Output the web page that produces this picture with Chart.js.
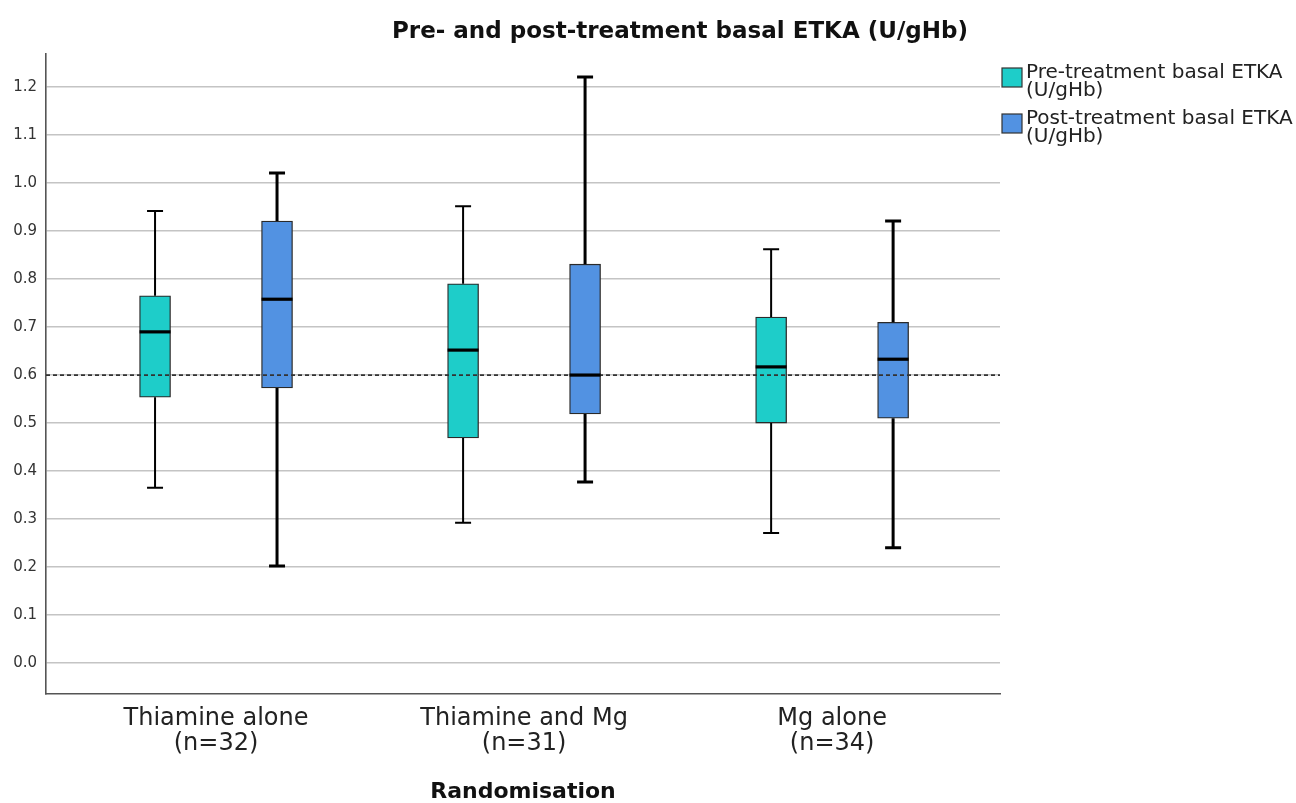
<!DOCTYPE html>
<html><head><meta charset="utf-8">
<script src="https://cdn.jsdelivr.net/npm/chart.js@4.4.1/dist/chart.umd.min.js"></script>
<style>html,body{margin:0;padding:0;background:#fff;} canvas{display:block;}</style>
</head><body>
<canvas id="c" width="1296" height="803"></canvas>
<script>
// ---- data ----
const CATEGORIES = ['Thiamine alone', 'Thiamine and Mg', 'Mg alone'];
const GROUP_N = [32, 31, 34];
const SERIES_NAMES = [['Pre-treatment basal ETKA', '(U/gHb)'], ['Post-treatment basal ETKA', '(U/gHb)']];
const PRE_MIN    = [0.365, 0.292, 0.271];
const PRE_Q1     = [0.554, 0.469, 0.500];
const PRE_MEDIAN = [0.690, 0.652, 0.617];
const PRE_Q3     = [0.765, 0.790, 0.721];
const PRE_MAX    = [0.942, 0.952, 0.862];
const POST_MIN    = [0.202, 0.377, 0.240];
const POST_Q1     = [0.573, 0.519, 0.510];
const POST_MEDIAN = [0.758, 0.600, 0.633];
const POST_Q3     = [0.921, 0.831, 0.710];
const POST_MAX    = [1.021, 1.221, 0.921];
const Y_TICKS = [0.0, 0.1, 0.2, 0.3, 0.4, 0.5, 0.6, 0.7, 0.8, 0.9, 1.0, 1.1, 1.2];
const REFERENCE_VALUE = 0.6;
const TITLE = 'Pre- and post-treatment basal ETKA (U/gHb)';
const X_TITLE = 'Randomisation';

// ---- axis limits / layout ----
const Y_MIN = -0.0646, Y_MAX = 1.269;
const X_MIN = -0.552, X_MAX = 2.545;
const GROUP_OFFSET = [-0.198, 0.198];
const COLORS = ['#1ecdc9', '#5292e2'];
const WHISKER_WIDTH = [2, 3];

function boxDataset(idx, q1, med, q3, mn, mx) {
  return {
    type: 'bar',
    label: SERIES_NAMES[idx].join(' '),
    legendLines: SERIES_NAMES[idx],
    data: CATEGORIES.map((c, i) => ({ x: i + GROUP_OFFSET[idx], y: [q1[i], q3[i]] })),
    stats: { min: mn, q1: q1, med: med, q3: q3, max: mx },
    backgroundColor: COLORS[idx],
    borderColor: '#2a2a2a',
    borderWidth: 1.3,
    borderSkipped: false,
    barThickness: 31,
    grouped: false,
    whiskerWidth: WHISKER_WIDTH[idx],
    order: 1
  };
}

const boxPlugin = {
  id: 'boxWhiskers',
  afterDatasetsDraw(chart) {
    const ctx = chart.ctx, ys = chart.scales.y;
    chart.data.datasets.forEach((ds, di) => {
      if (!ds.stats) return;
      const meta = chart.getDatasetMeta(di);
      meta.data.forEach((bar, i) => {
        const s = ds.stats, x = bar.x, w = bar.width;
        const yMax = ys.getPixelForValue(s.max[i]);
        const yMin = ys.getPixelForValue(s.min[i]);
        const yQ1 = ys.getPixelForValue(s.q1[i]);
        const yQ3 = ys.getPixelForValue(s.q3[i]);
        const yMed = ys.getPixelForValue(s.med[i]);
        ctx.save();
        ctx.strokeStyle = '#000';
        ctx.lineWidth = ds.whiskerWidth;
        ctx.beginPath();
        ctx.moveTo(x, yQ3); ctx.lineTo(x, yMax);
        ctx.moveTo(x, yQ1); ctx.lineTo(x, yMin);
        ctx.moveTo(x - 8, yMax); ctx.lineTo(x + 8, yMax);
        ctx.moveTo(x - 8, yMin); ctx.lineTo(x + 8, yMin);
        ctx.stroke();
        ctx.lineWidth = 3.2;
        ctx.beginPath();
        ctx.moveTo(x - w / 2, yMed); ctx.lineTo(x + w / 2, yMed);
        ctx.stroke();
        ctx.restore();
      });
    });
  },
  afterDraw(chart) {
    const ctx = chart.ctx;
    ctx.save();
    // title
    ctx.fillStyle = '#111';
    ctx.font = 'bold 23px "DejaVu Sans"';
    ctx.textAlign = 'center';
    ctx.textBaseline = 'alphabetic';
    ctx.fillText(TITLE, 680, 38);
    // legend
    ctx.textAlign = 'left';
    ctx.font = '20px "DejaVu Sans"';
    const tops = [68, 114];
    const boxes = chart.data.datasets.filter(d => d.stats);
    boxes.forEach((ds, k) => {
      const top = tops[k];
      ctx.fillStyle = ds.backgroundColor;
      ctx.fillRect(1002, top, 20, 19);
      ctx.strokeStyle = '#333';
      ctx.lineWidth = 1.2;
      ctx.strokeRect(1002, top, 20, 19);
      ctx.fillStyle = '#222';
      ds.legendLines.forEach((t, j) => ctx.fillText(t, 1026, top + 10 + j * 18));
    });
    ctx.restore();
  }
};

new Chart(document.getElementById('c'), {
  type: 'bar',
  data: {
    datasets: [
      boxDataset(0, PRE_Q1, PRE_MEDIAN, PRE_Q3, PRE_MIN, PRE_MAX),
      boxDataset(1, POST_Q1, POST_MEDIAN, POST_Q3, POST_MIN, POST_MAX),
      {
        type: 'line',
        label: 'reference',
        data: [{ x: X_MIN, y: REFERENCE_VALUE }, { x: X_MAX, y: REFERENCE_VALUE }],
        borderColor: '#333',
        borderWidth: 1.7,
        borderDash: [4, 3],
        pointRadius: 0,
        order: 0
      }
    ]
  },
  options: {
    responsive: false,
    animation: false,
    layout: { padding: { left: 0, top: 54, right: 296, bottom: 0 } },
    plugins: { legend: { display: false }, tooltip: { enabled: false }, title: { display: false } },
    scales: {
      x: {
        type: 'linear',
        offset: false,
        min: X_MIN, max: X_MAX,
        afterBuildTicks: s => { s.ticks = CATEGORIES.map((c, i) => ({ value: i })); },
        afterFit: s => { s.height = 109; },
        grid: { display: false, drawTicks: false, offset: false },
        border: { display: true, color: '#555', width: 1.6 },
        ticks: {
          autoSkip: false, maxRotation: 0, padding: 12,
          color: '#222',
          font: { family: '"DejaVu Sans"', size: 24, lineHeight: 1.05 },
          callback: v => [CATEGORIES[Math.round(v)], '(n=' + GROUP_N[Math.round(v)] + ')']
        },
        title: {
          display: true, text: X_TITLE, color: '#111',
          font: { family: '"DejaVu Sans"', size: 22, weight: 'bold', lineHeight: 1 },
          padding: { top: 0, bottom: 0 }
        }
      },
      y: {
        type: 'linear',
        min: Y_MIN, max: Y_MAX,
        afterBuildTicks: s => { s.ticks = Y_TICKS.map(v => ({ value: v })); },
        afterFit: s => { s.width = 46; },
        grid: { color: '#c4c4c4', lineWidth: 1.6, drawTicks: false },
        border: { display: true, color: '#555', width: 1.6 },
        ticks: {
          padding: 9, color: '#333',
          font: { family: '"DejaVu Sans"', size: 15 },
          callback: v => Number(v).toFixed(1)
        }
      }
    }
  },
  plugins: [boxPlugin]
});
</script>
</body></html>
